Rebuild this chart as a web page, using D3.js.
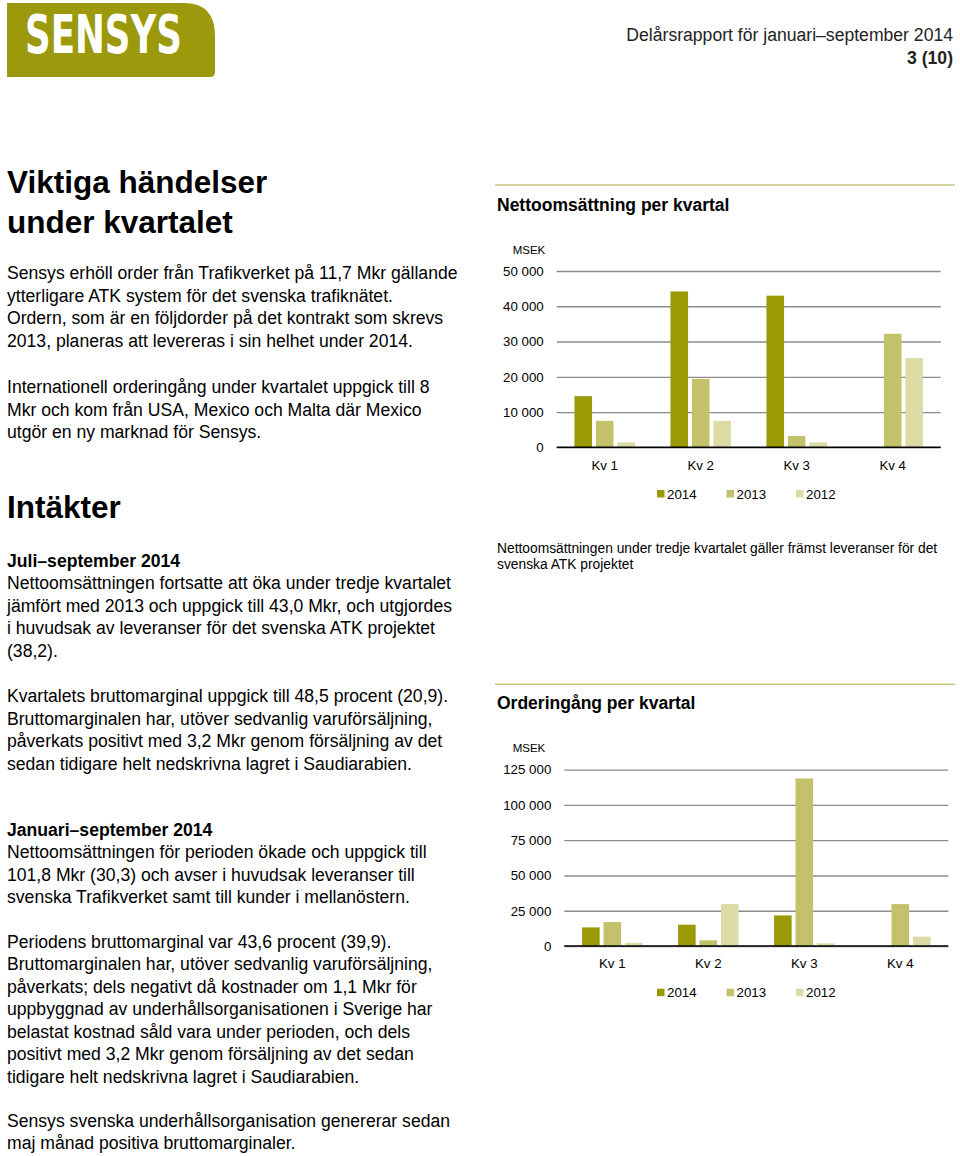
<!DOCTYPE html>
<html>
<head>
<meta charset="utf-8">
<script src="https://cdnjs.cloudflare.com/ajax/libs/d3/7.8.5/d3.min.js"></script>
<style>
  body { margin: 0; background: #fff; }
  svg { display: block; font-family: "Liberation Sans", Arial, sans-serif; }
</style>
</head>
<body>
<svg id="page" width="960" height="1156"></svg>
<script>
// chart data
var quarters = ["Kv 1", "Kv 2", "Kv 3", "Kv 4"];
var years = ["2014", "2013", "2012"];
var yearColors = ["#9a9a06", "#c3c26a", "#dcdba6"];

var salesTicks = [0, 10000, 20000, 30000, 40000, 50000];
var sales2014 = [14500, 44200, 43000, null];
var sales2013 = [7500, 19400, 3200, 32200];
var sales2012 = [1400, 7500, 1400, 25300];

var orderTicks = [0, 25000, 50000, 75000, 100000, 125000];
var orders2014 = [13200, 15100, 21700, null];
var orders2013 = [17000, 4000, 118800, 29700];
var orders2012 = [2300, 29700, 1900, 6600];

var svg = d3.select("#page");
var se = d3.formatLocale({decimal: ",", thousands: " ", grouping: [3], currency: ["", ""]});
var fmt = se.format(",");

// logo
svg.append("path")
    .attr("d", "M7,3 H184 Q215,3 215,36 V72 Q215,77 210,77 H7 Z")
    .attr("fill", "#9c9a0c");
svg.append("text")
    .attr("x", 25).attr("y", 53)
    .attr("textLength", 157).attr("lengthAdjust", "spacingAndGlyphs")
    .style("font-family", "'DejaVu Sans Condensed', 'DejaVu Sans', sans-serif")
    .style("font-size", "54px").style("font-weight", "bold")
    .attr("fill", "#fff")
    .text("SENSYS");

// header
svg.append("text").attr("x", 953).attr("y", 41).attr("text-anchor", "end")
    .style("font-size", "17.6px").attr("fill", "#222")
    .text("Delårsrapport för januari–september 2014");
svg.append("text").attr("x", 953).attr("y", 64).attr("text-anchor", "end")
    .style("font-size", "17.6px").style("font-weight", "bold").attr("fill", "#222")
    .text("3 (10)");

// left column text
var blocks = [
  {size: 31.5, bold: true, y: 193, step: 39.5, lines: ["Viktiga händelser", "under kvartalet"]},
  {size: 17.6, y: 279, step: 22.7, lines: [
    "Sensys erhöll order från Trafikverket på 11,7 Mkr gällande",
    "ytterligare ATK system för det svenska trafiknätet.",
    "Ordern, som är en följdorder på det kontrakt som skrevs",
    "2013, planeras att levereras i sin helhet under 2014."]},
  {size: 17.6, y: 393, step: 22.7, lines: [
    "Internationell orderingång under kvartalet uppgick till 8",
    "Mkr och kom från USA, Mexico och Malta där Mexico",
    "utgör en ny marknad för Sensys."]},
  {size: 31.5, bold: true, y: 518, step: 39, lines: ["Intäkter"]},
  {size: 17.6, bold: true, y: 566.5, step: 22.7, lines: ["Juli–september 2014"]},
  {size: 17.6, y: 589, step: 22.6, lines: [
    "Nettoomsättningen fortsatte att öka under tredje kvartalet",
    "jämfört med 2013 och uppgick till 43,0 Mkr, och utgjordes",
    "i huvudsak av leveranser för det svenska ATK projektet",
    "(38,2)."]},
  {size: 17.6, y: 702, step: 22.6, lines: [
    "Kvartalets bruttomarginal uppgick till 48,5 procent (20,9).",
    "Bruttomarginalen har, utöver sedvanlig varuförsäljning,",
    "påverkats positivt med 3,2 Mkr genom försäljning av det",
    "sedan tidigare helt nedskrivna lagret i Saudiarabien."]},
  {size: 17.6, bold: true, y: 835.5, step: 22.7, lines: ["Januari–september 2014"]},
  {size: 17.6, y: 858, step: 22.6, lines: [
    "Nettoomsättningen för perioden ökade och uppgick till",
    "101,8 Mkr (30,3) och avser i huvudsak leveranser till",
    "svenska Trafikverket samt till kunder i mellanöstern."]},
  {size: 17.6, y: 947.5, step: 22.5, lines: [
    "Periodens bruttomarginal var 43,6 procent (39,9).",
    "Bruttomarginalen har, utöver sedvanlig varuförsäljning,",
    "påverkats; dels negativt då kostnader om 1,1 Mkr för",
    "uppbyggnad av underhållsorganisationen i Sverige har",
    "belastat kostnad såld vara under perioden, och dels",
    "positivt med 3,2 Mkr genom försäljning av det sedan",
    "tidigare helt nedskrivna lagret i Saudiarabien."]},
  {size: 17.6, y: 1126.5, step: 22.7, lines: [
    "Sensys svenska underhållsorganisation genererar sedan",
    "maj månad positiva bruttomarginaler."]}
];

blocks.forEach(function (b) {
  b.lines.forEach(function (line, i) {
    svg.append("text")
        .attr("x", 7).attr("y", b.y + i * b.step)
        .style("font-size", b.size + "px")
        .style("font-weight", b.bold ? "bold" : "normal")
        .attr("fill", "#000")
        .text(line);
  });
});

// chart drawing
function drawChart(opt) {
  var g = svg.append("g");

  g.append("line")
      .attr("x1", 495).attr("x2", 955)
      .attr("y1", opt.ruleY).attr("y2", opt.ruleY)
      .attr("stroke", "#c9c67c").attr("stroke-width", 1.5);

  g.append("text").attr("x", 497).attr("y", opt.titleY)
      .style("font-size", "17.5px").style("font-weight", "bold")
      .text(opt.title);

  g.append("text").attr("x", 529).attr("y", opt.unitY).attr("text-anchor", "middle")
      .style("font-size", "11.5px").text("MSEK");

  var y = d3.scaleLinear().domain([0, d3.max(opt.ticks)]).range([opt.y0, opt.yTop]);
  var x0 = d3.scaleBand().domain(quarters).range([opt.left, opt.left + 384])
      .paddingInner(0.37).paddingOuter(0.185);
  var x1 = d3.scaleBand().domain(years).range([0, x0.bandwidth()]).paddingInner(0.18);
  var color = d3.scaleOrdinal().domain(years).range(yearColors);

  var ax = g.append("g").attr("transform", "translate(" + opt.left + ",0)")
      .call(d3.axisLeft(y).tickValues(opt.ticks).tickSize(-384).tickPadding(13).tickFormat(fmt));
  ax.select(".domain").remove();
  ax.selectAll(".tick line").attr("stroke", "#8c8c8c").attr("stroke-width", 1.3);
  ax.selectAll(".tick text").style("font-size", "13.3px").style("font-family", "'Liberation Sans', Arial, sans-serif")
      .attr("fill", "#000");

  var rows = [];
  quarters.forEach(function (q, i) {
    years.forEach(function (yr, j) {
      var v = opt.series[j][i];
      if (v !== null) rows.push({q: q, yr: yr, v: v});
    });
  });

  g.selectAll("rect.bar").data(rows).enter().append("rect")
      .attr("class", "bar")
      .attr("x", function (d) { return x0(d.q) + x1(d.yr); })
      .attr("width", x1.bandwidth())
      .attr("y", function (d) { return y(d.v); })
      .attr("height", function (d) { return y(0) - y(d.v); })
      .attr("fill", function (d) { return color(d.yr); });

  g.append("line")
      .attr("x1", opt.left).attr("x2", opt.left + 384)
      .attr("y1", y(0)).attr("y2", y(0))
      .attr("stroke", "#000").attr("stroke-width", 1.6);

  g.selectAll("text.kv").data(quarters).enter().append("text")
      .attr("class", "kv")
      .attr("x", function (d) { return x0(d) + x0.bandwidth() / 2; })
      .attr("y", opt.kvY).attr("text-anchor", "middle")
      .style("font-size", "13.3px")
      .text(function (d) { return d; });

  var leg = g.selectAll("g.leg").data(years).enter().append("g")
      .attr("class", "leg")
      .attr("transform", function (d, i) { return "translate(" + (657 + i * 69.5) + "," + opt.legY + ")"; });
  leg.append("rect").attr("x", 0).attr("y", -4).attr("width", 7.5).attr("height", 7.5)
      .attr("fill", function (d) { return color(d); });
  leg.append("text").attr("x", 10).attr("y", 4.5).style("font-size", "13.3px")
      .text(function (d) { return d; });
}

drawChart({
  title: "Nettoomsättning per kvartal",
  ruleY: 185, titleY: 211, unitY: 254,
  ticks: salesTicks, series: [sales2014, sales2013, sales2012],
  left: 556.7, y0: 447.3, yTop: 271,
  kvY: 469.5, legY: 494
});

svg.append("text").attr("x", 497).attr("y", 552.5)
    .style("font-size", "13.8px")
    .text("Nettoomsättningen under tredje kvartalet gäller främst leveranser för det");
svg.append("text").attr("x", 497).attr("y", 568.5)
    .style("font-size", "13.8px")
    .text("svenska ATK projektet");

drawChart({
  title: "Orderingång per kvartal",
  ruleY: 684.3, titleY: 709, unitY: 752,
  ticks: orderTicks, series: [orders2014, orders2013, orders2012],
  left: 564.3, y0: 946, yTop: 769.7,
  kvY: 968, legY: 992.7
});
</script>
</body>
</html>
